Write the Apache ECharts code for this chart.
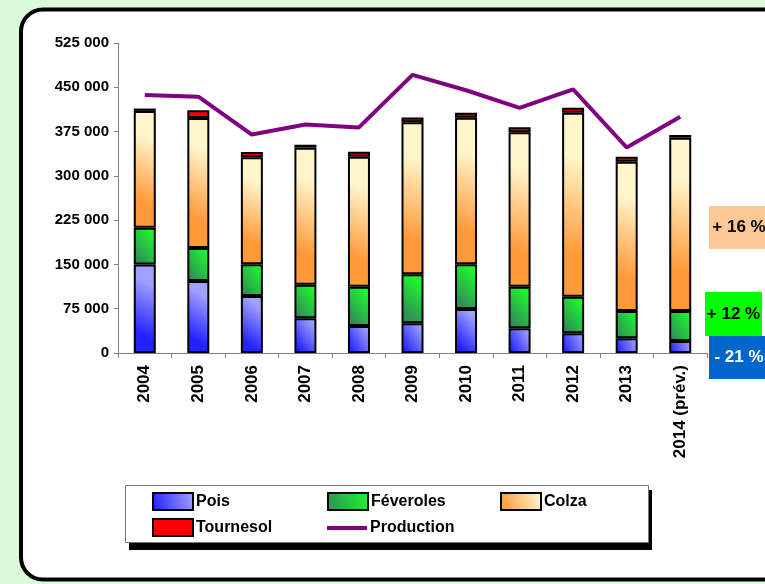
<!DOCTYPE html>
<html>
<head>
<meta charset="utf-8">
<script src="https://cdn.jsdelivr.net/npm/echarts@6/dist/echarts.min.js"></script>
<style>
  html, body { margin: 0; padding: 0; background: #dcfadc; }
  #chart { width: 765px; height: 584px; }
</style>
</head>
<body>
<div id="chart"></div>
<script>
// données (tonnes)
const annees = ['2004', '2005', '2006', '2007', '2008', '2009', '2010', '2011', '2012', '2013', '2014 (prév.)'];
const pois = [150000, 122000, 96500, 58700, 45700, 50300, 74500, 41800, 33300, 24900, 20300];
const feveroles = [62000, 56000, 54000, 57000, 66500, 83000, 75700, 70500, 62000, 46200, 50800];
const colza = [198000, 220000, 181000, 232000, 220000, 257500, 248300, 261400, 311600, 252900, 293500];
const tournesol = [4000, 13000, 9000, 5000, 8500, 8000, 8500, 8500, 8400, 8500, 4600];
const production = [437000, 434000, 370000, 387000, 382000, 471000, 445000, 415000, 446500, 348000, 400000];
const variations = ['+ 16 %', '+ 12 %', '- 21 %'];

const police = '"Liberation Sans", Arial, sans-serif';
const grad = (a, b) => new echarts.graphic.LinearGradient(0, 0.75, 1, 0.25, [
  { offset: 0, color: a }, { offset: 1, color: b }
]);

function barSerie(name, data, color) {
  return {
    name: name,
    type: 'bar',
    stack: 'total',
    barWidth: 22,
    data: data,
    itemStyle: { color: color, borderColor: '#000', borderWidth: 2 }
  };
}

function legendItem(name, left, top, h) {
  return {
    data: [{ name: name, icon: 'rect' }],
    left: left,
    top: top,
    itemWidth: 40,
    itemHeight: h,
    itemGap: 4,
    padding: 0,
    selectedMode: false,
    textStyle: { fontFamily: police, fontWeight: 'bold', fontSize: 16, color: '#000', padding: [0, 0, 0, -2] }
  };
}

function etiquette(txt, x, y, w, h, fond, coul) {
  return [{
    type: 'rect',
    shape: { x: x, y: y, width: w, height: h },
    style: { fill: fond }
  }, {
    type: 'text',
    x: x + w / 2,
    y: y + h / 2,
    style: {
      text: txt, fill: coul, font: 'bold 17px ' + police,
      align: 'center', verticalAlign: 'middle'
    },
    z: 10
  }];
}

const legProd = legendItem('Production', 327, 520, 4);
legProd.data = [{ name: 'Production', icon: 'rect', itemStyle: { color: '#800080', borderWidth: 0 } }];

const chart = echarts.init(document.getElementById('chart'));
const option = {
  backgroundColor: 'transparent',
  animation: false,
  grid: { left: 118, right: 58, top: 43, bottom: 231 },
  legend: [
    legendItem('Pois', 152, 492, 17),
    legendItem('Féveroles', 327, 492, 17),
    legendItem('Colza', 500, 492, 17),
    legendItem('Tournesol', 152, 518, 17),
    legProd
  ],
  xAxis: {
    type: 'category',
    data: annees,
    axisLine: { lineStyle: { color: '#808080', width: 1 } },
    axisTick: { show: true, length: 5, lineStyle: { color: '#808080' } },
    axisLabel: {
      rotate: 90, margin: 12, color: '#000',
      fontFamily: police, fontWeight: 'bold', fontSize: 17
    }
  },
  yAxis: {
    type: 'value',
    min: 0,
    max: 525000,
    interval: 75000,
    splitLine: { show: false },
    axisLine: { show: true, lineStyle: { color: '#808080', width: 1 } },
    axisTick: { show: true, length: 4, lineStyle: { color: '#808080' } },
    axisLabel: {
      margin: 9, color: '#000', fontFamily: police, fontWeight: 'bold', fontSize: 15,
      formatter: v => v === 0 ? '0' : String(v).replace(/\B(?=(\d{3})+(?!\d))/g, ' ')
    }
  },
  series: [
    barSerie('Pois', pois, grad('#2222ff', '#a0a0ff')),
    barSerie('Féveroles', feveroles, grad('#2f8f55', '#1ff52f')),
    barSerie('Colza', colza, grad('#ff9a3a', '#fff6cc')),
    barSerie('Tournesol', tournesol, '#ff0000'),
    {
      name: 'Production',
      type: 'line',
      data: production,
      symbol: 'none',
      z: 5,
      lineStyle: { color: '#800080', width: 4 },
      itemStyle: { color: '#800080' }
    }
  ],
  graphic: [
    {
      type: 'rect',
      shape: { x: 21, y: 9.5, width: 790, height: 570, r: 22 },
      style: { fill: '#fff', stroke: '#000', lineWidth: 4 },
      z: -10
    },
    {
      type: 'rect',
      shape: { x: 129, y: 490, width: 523, height: 60 },
      style: { fill: '#000' },
      z: -6
    },
    {
      type: 'rect',
      shape: { x: 125.5, y: 485.5, width: 523, height: 57 },
      style: { fill: '#fff', stroke: '#777', lineWidth: 1 },
      z: -5
    },
    ...etiquette(variations[0], 709, 206, 60, 43, '#fdc896', '#000'),
    ...etiquette(variations[1], 705, 292, 57, 44, '#00ff00', '#000'),
    ...etiquette(variations[2], 709, 336, 60, 43, '#0066cc', '#fff')
  ]
};
chart.setOption(option);
</script>
</body>
</html>
